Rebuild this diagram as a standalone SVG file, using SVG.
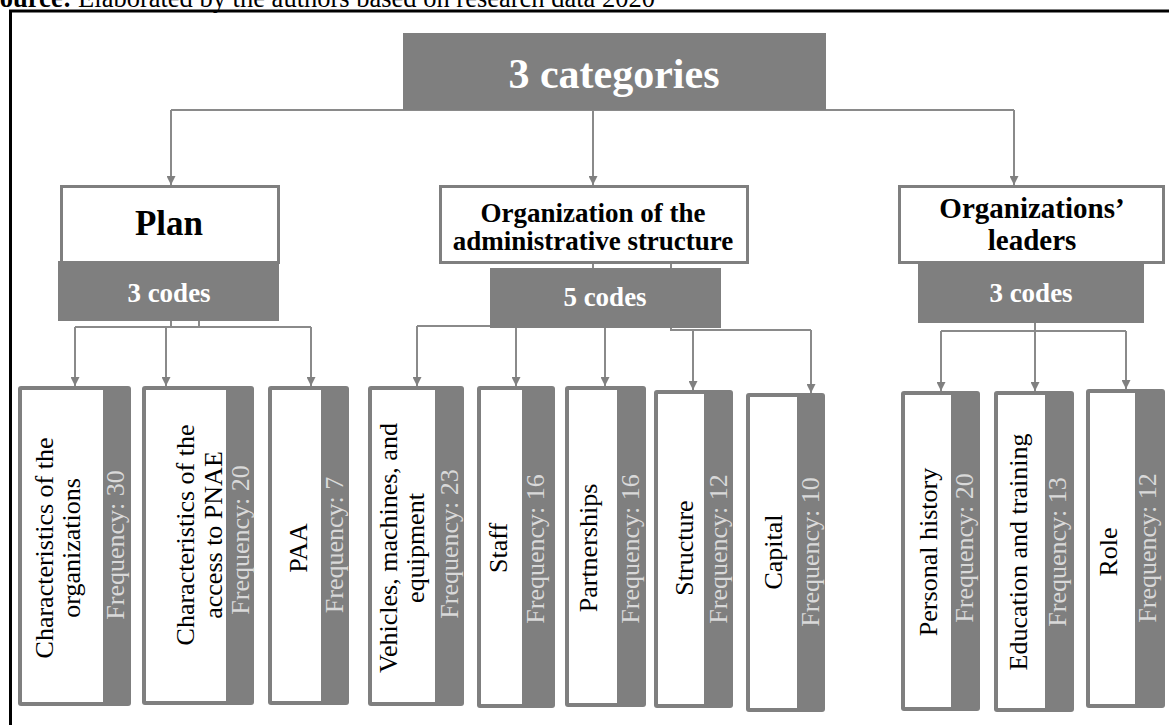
<svg xmlns="http://www.w3.org/2000/svg" width="1169" height="725" viewBox="0 0 1169 725">
<defs>
<marker id="ah" markerUnits="userSpaceOnUse" markerWidth="10" markerHeight="9" refX="9" refY="4.5" orient="auto">
<path d="M0,0 L9,4.5 L0,9 Z" fill="#808080"/>
</marker>
<style>
.cap{font-family:"Liberation Serif","Times New Roman",serif;font-size:26.5px;fill:#000}
.hdr{font-family:"Liberation Serif","Times New Roman",serif;font-weight:bold;fill:#fff;text-anchor:middle}
.cat{font-family:"Liberation Serif","Times New Roman",serif;font-weight:bold;fill:#000;text-anchor:middle}
.box{fill:#fff;stroke:#7f7f7f;stroke-width:3}
.gray{fill:#7f7f7f}
.lbl{font-family:"Liberation Serif","Times New Roman",serif;font-size:26px;fill:#000;text-anchor:middle}
.frq{font-family:"Liberation Serif","Times New Roman",serif;font-size:26px;fill:#d9d9d9;text-anchor:middle}
.con{fill:none;stroke:#8a8a8a;stroke-width:2}
.arr{fill:none;stroke:#8a8a8a;stroke-width:2;marker-end:url(#ah)}
</style>
</defs>
<rect width="1169" height="725" fill="#fff"/>
<text class="cap" x="655" y="7" text-anchor="end"><tspan font-weight="bold">Source:</tspan> Elaborated by the authors based on research data 2020</text>
<path d="M10.5,725 V11 H1169" fill="none" stroke="#000" stroke-width="3"/>

<g id="connectors">
<path class="con" d="M171,110 H1014"/>
<path class="arr" d="M171,110 V185"/>
<path class="arr" d="M593,110 V185"/>
<path class="arr" d="M1014,110 V185"/>
<path class="con" d="M171,321 V327 M199,321 V327 M75,327 H311"/>
<path class="arr" d="M75,327 V386"/>
<path class="arr" d="M166,327 V386"/>
<path class="arr" d="M311,327 V386"/>
<path class="con" d="M593,264 V268 M593,326 H417"/>
<path class="arr" d="M417,326 V386"/>
<path class="arr" d="M516,328 V386"/>
<path class="arr" d="M605,328 V386"/>
<path class="con" d="M671,264 V330 H811"/>
<path class="arr" d="M811,330 V393"/>
<path class="arr" d="M693,330 V390"/>
<path class="con" d="M941,331 H1126"/>
<path class="arr" d="M1035,323 V391"/>
<path class="arr" d="M941,331 V391"/>
<path class="arr" d="M1126,331 V389"/>
</g>

<g id="header">
<rect class="gray" x="403" y="33" width="423" height="77"/>
<text class="hdr" x="614" y="88" font-size="42">3 categories</text>
</g>

<g id="cat-plan">
<rect class="box" x="61.5" y="186.5" width="217" height="76"/>
<text class="cat" x="169" y="235" font-size="35">Plan</text>
</g>
<g id="codes-plan">
<rect class="gray" x="58" y="261" width="221" height="60"/>
<text class="hdr" x="169" y="302" font-size="27">3 codes</text>
</g>

<g id="cat-org">
<rect class="box" x="440.5" y="186.5" width="307" height="76"/>
<text class="cat" x="593" y="222" font-size="27">Organization of the</text>
<text class="cat" x="593" y="250" font-size="27">administrative structure</text>
</g>
<g id="codes-org">
<rect class="gray" x="490" y="268" width="231" height="60"/>
<text class="hdr" x="605" y="306" font-size="27">5 codes</text>
</g>

<g id="cat-leaders">
<rect class="box" x="899.5" y="186.5" width="264" height="76"/>
<text class="cat" x="1032" y="218" font-size="29">Organizations’</text>
<text class="cat" x="1032" y="250" font-size="29">leaders</text>
</g>
<g id="codes-leaders">
<rect class="gray" x="918" y="264" width="226" height="59"/>
<text class="hdr" x="1031" y="302" font-size="27">3 codes</text>
</g>

<g id="leaf-characteristics-organizations">
<rect class="gray" x="18" y="386" width="113" height="320" rx="3"/>
<rect fill="#fff" x="22" y="390" width="81" height="312"/>
<text class="lbl" font-size="25" transform="translate(53,548) rotate(-90)">Characteristics of the</text>
<text class="lbl" font-size="25" transform="translate(80,548) rotate(-90)">organizations</text>
<text class="frq" transform="translate(124,545) rotate(-90)">Frequency: 30</text>
</g>

<g id="leaf-characteristics-pnae">
<rect class="gray" x="142" y="386" width="112" height="319" rx="3"/>
<rect fill="#fff" x="146" y="390" width="80" height="311"/>
<text class="lbl" font-size="25" transform="translate(194,535) rotate(-90)">Characteristics of the</text>
<text class="lbl" font-size="25" transform="translate(222,535) rotate(-90)">access to PNAE</text>
<text class="frq" transform="translate(249,540) rotate(-90)">Frequency: 20</text>
</g>

<g id="leaf-paa">
<rect class="gray" x="268" y="386" width="81" height="319" rx="3"/>
<rect fill="#fff" x="272" y="390" width="49" height="311"/>
<text class="lbl" transform="translate(307,548) rotate(-90)">PAA</text>
<text class="frq" transform="translate(343,545) rotate(-90)">Frequency: 7</text>
</g>

<g id="leaf-vehicles">
<rect class="gray" x="368" y="386" width="96" height="320" rx="3"/>
<rect fill="#fff" x="372" y="390" width="63" height="312"/>
<text class="lbl" transform="translate(397,548) rotate(-90)">Vehicles, machines, and</text>
<text class="lbl" transform="translate(424,548) rotate(-90)">equipment</text>
<text class="frq" transform="translate(458,544) rotate(-90)">Frequency: 23</text>
</g>

<g id="leaf-staff">
<rect class="gray" x="477" y="386" width="78" height="322" rx="3"/>
<rect fill="#fff" x="481" y="390" width="41" height="314"/>
<text class="lbl" transform="translate(507,548) rotate(-90)">Staff</text>
<text class="frq" transform="translate(544,549) rotate(-90)">Frequency: 16</text>
</g>

<g id="leaf-partnerships">
<rect class="gray" x="565" y="386" width="81" height="321" rx="3"/>
<rect fill="#fff" x="569" y="390" width="48" height="313"/>
<text class="lbl" transform="translate(597,548) rotate(-90)">Partnerships</text>
<text class="frq" transform="translate(639,549) rotate(-90)">Frequency: 16</text>
</g>

<g id="leaf-structure">
<rect class="gray" x="654" y="390" width="79" height="318" rx="3"/>
<rect fill="#fff" x="658" y="394" width="46" height="310"/>
<text class="lbl" transform="translate(693,548) rotate(-90)">Structure</text>
<text class="frq" transform="translate(727,549) rotate(-90)">Frequency: 12</text>
</g>

<g id="leaf-capital">
<rect class="gray" x="746" y="393" width="79" height="319" rx="3"/>
<rect fill="#fff" x="750" y="397" width="47" height="311"/>
<text class="lbl" transform="translate(782,552) rotate(-90)">Capital</text>
<text class="frq" transform="translate(819,552) rotate(-90)">Frequency: 10</text>
</g>

<g id="leaf-personal-history">
<rect class="gray" x="901" y="391" width="79" height="320" rx="3"/>
<rect fill="#fff" x="905" y="395" width="46" height="312"/>
<text class="lbl" transform="translate(937,552) rotate(-90)">Personal history</text>
<text class="frq" transform="translate(973,548) rotate(-90)">Frequency: 20</text>
</g>

<g id="leaf-education">
<rect class="gray" x="994" y="391" width="80" height="321" rx="3"/>
<rect fill="#fff" x="998" y="395" width="47" height="313"/>
<text class="lbl" transform="translate(1027,552) rotate(-90)">Education and training</text>
<text class="frq" transform="translate(1066,552) rotate(-90)">Frequency: 13</text>
</g>

<g id="leaf-role">
<rect class="gray" x="1086" y="389" width="79" height="319" rx="3"/>
<rect fill="#fff" x="1090" y="393" width="45" height="311"/>
<text class="lbl" transform="translate(1117,552) rotate(-90)">Role</text>
<text class="frq" transform="translate(1156,548) rotate(-90)">Frequency: 12</text>
</g>
</svg>
